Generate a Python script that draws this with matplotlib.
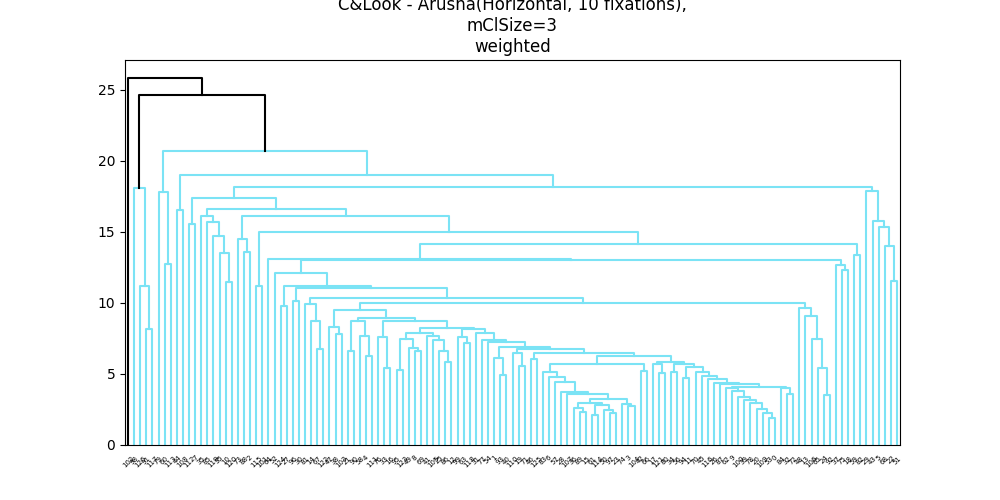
import matplotlib
matplotlib.use('Agg')
import matplotlib.pyplot as plt
import numpy as np

title = 'C&Look - Arusha(Horizontal, 10 fixations),\nmClSize=3\nweighted'

# leaf labels, left to right (too small to read in the picture, estimated)
leaf_labels = [102, 98, 126, 91, 117, 79, 60, 113, 44, 108,
               112, 7, 35, 85, 119, 55, 10, 120, 73, 88,
               2, 115, 101, 64, 52, 124, 27, 96, 30, 81,
               14, 67, 122, 47, 38, 103, 21, 90, 58, 4,
               111, 76, 33, 16, 95, 123, 49, 8, 69, 41,
               105, 25, 86, 12, 99, 63, 118, 31, 77, 54,
               1, 93, 40, 110, 19, 71, 46, 125, 83, 6,
               57, 28, 107, 36, 89, 15, 61, 114, 50, 97,
               23, 74, 3, 104, 42, 66, 17, 121, 80, 34,
               56, 94, 11, 70, 45, 116, 26, 87, 62, 9,
               100, 39, 78, 20, 109, 53, 0, 84, 32, 72,
               48, 13, 106, 65, 24, 92, 37, 75, 18, 59,
               82, 29, 43, 5, 68, 22, 51]

# height at which each leaf is joined to its right neighbour
merge_heights = [25.8, 18.1, 11.2, 8.17, 24.6, 17.77, 12.75, 20.7, 16.55, 19.0,
                 15.56, 17.35, 16.08, 15.66, 14.72, 13.54, 11.48, 16.6, 14.48, 13.59,
                 16.1, 11.2, 15.0, 13.12, 12.09, 9.81, 11.22, 10.16, 11.03, 9.91,
                 8.73, 6.76, 10.33, 8.31, 7.84, 9.51, 6.64, 8.69, 7.7, 6.27,
                 8.97, 7.6, 5.42, 8.73, 5.28, 7.46, 6.81, 6.62, 7.86, 7.68,
                 7.39, 6.64, 5.87, 8.26, 7.58, 7.16, 8.15, 7.91, 7.39, 7.27,
                 6.1, 4.93, 6.92, 6.45, 5.59, 6.78, 6.06, 6.5, 5.12, 4.77,
                 4.46, 3.76, 3.57, 2.63, 2.35, 2.93, 2.11, 2.82, 2.46, 2.28,
                 3.24, 2.9, 2.75, 5.7, 5.23, 6.27, 5.7, 5.09, 5.87, 5.16,
                 5.7, 4.69, 5.52, 5.16, 4.88, 4.63, 4.34, 4.30, 3.99, 3.83,
                 3.40, 3.17, 2.98, 2.54, 2.28, 1.92, 4.11, 3.99, 3.57, 9.98,
                 9.62, 9.1, 7.46, 5.42, 3.52, 13.05, 12.68, 12.32, 14.15, 13.4,
                 18.17, 17.84, 15.73, 15.33, 14.01, 11.57]

color_threshold = 22.0
cluster_color = '#7be3f5'
above_color = 'k'

links = []


def build(lo, hi):
    # leaves lo..hi form one cluster, split it where the join is highest
    if lo == hi:
        return 5.0 + 10.0 * lo, 0.0
    k = lo + int(np.argmax(merge_heights[lo:hi]))
    lx, lh = build(lo, k)
    rx, rh = build(k + 1, hi)
    h = merge_heights[k]
    links.append(([lx, lx, rx, rx], [lh, h, h, rh], h))
    return (lx + rx) / 2.0, h


n = len(leaf_labels)
build(0, n - 1)

fig, ax = plt.subplots(figsize=(10, 5), dpi=100)
for xs, ys, h in links:
    ax.plot(xs, ys, color=above_color if h > color_threshold else cluster_color,
            linewidth=1.5)

top = max(merge_heights)
ax.set_xlim(0, 10 * n)
ax.set_ylim(0, top * 1.05)
ax.set_xticks(5 + 10 * np.arange(n))
ax.set_xticklabels([str(v) for v in leaf_labels], rotation=45, size=5)
for line in ax.get_xticklines():
    line.set_visible(False)
ax.set_title(title)

fig.savefig('out.png', dpi=100)
